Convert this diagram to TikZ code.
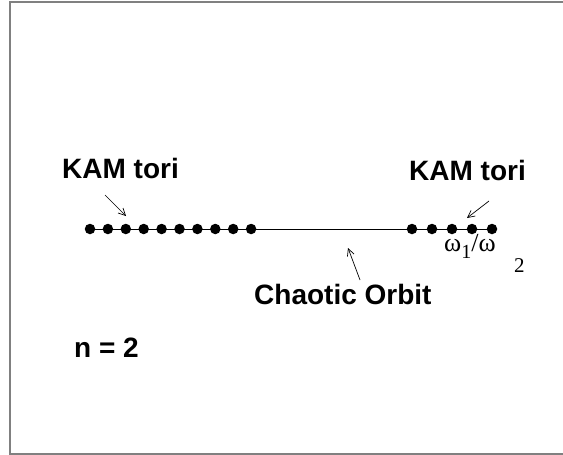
\documentclass[tikz,border=0pt]{standalone}
\usepackage{fontspec}
\setmainfont{Liberation Sans}
\newfontfamily\seriffont{Liberation Serif}
\usetikzlibrary{arrows.meta}

\begin{document}
\begin{tikzpicture}[x=1pt,y=-1pt,
  dot/.style={circle,fill=black,inner sep=0pt,minimum size=10.5pt},
  lbl/.style={font=\fontsize{28}{30}\selectfont\bfseries,inner sep=0pt,anchor=base west},
  pointer/.style={line width=0.7pt,-{Straight Barb[length=7pt,width=7pt]}}]
\useasboundingbox (0,0) rectangle (563,455);
% open frame
\draw[gray,line width=2pt] (563,1.5) -- (9.5,1.5) -- (9.5,453.5) -- (563,453.5);

% tori on the frequency line
\foreach \i in {0,...,9} \node[dot] (L\i) at ({90+17.9*\i},229) {};
\foreach \i in {0,...,4} \node[dot] (R\i) at ({412+20*\i},229) {};
\draw[line width=0.8pt] (L0) -- (R4);

% labels
\node[lbl] (kamL) at (62,178) {KAM tori};
\node[lbl] (kamR) at (409,180) {KAM tori};
\node[lbl] (chaos) at (254,304) {Chaotic Orbit};
\node[lbl] (n) at (74,357) {n = 2};
\node[inner sep=0pt,anchor=base west,font=\seriffont\fontsize{26}{28}\selectfont] (ratio) at (444,251)
  {ω\raisebox{-7pt}{\fontsize{20}{20}\selectfont 1}/ω};
\node[inner sep=0pt,anchor=base west,font=\seriffont\fontsize{21}{23}\selectfont] (two) at (514,272) {2};

% pointers
\coordinate (tA) at (105,195); \coordinate (hA) at (126,216);
\coordinate (tB) at (489,201); \coordinate (hB) at (467,218);
\coordinate (tC) at (360,280); \coordinate (hC) at (348,248);
\draw[pointer] (tA) -- (hA);
\draw[pointer] (tB) -- (hB);
\draw[pointer] (tC) -- (hC);
\end{tikzpicture}
\end{document}
